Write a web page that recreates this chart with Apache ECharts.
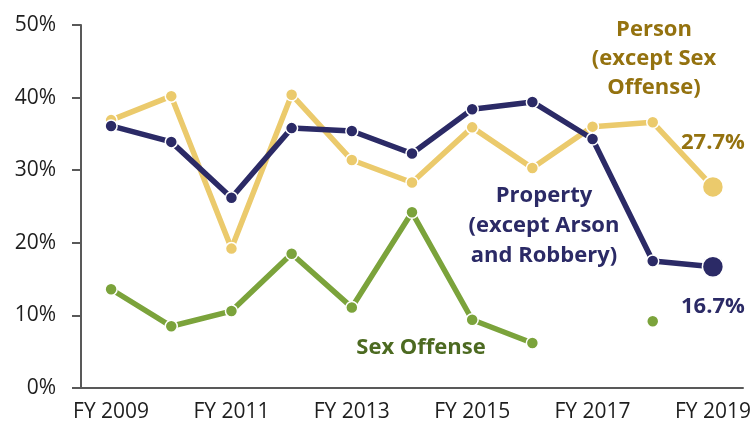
<!DOCTYPE html>
<html>
<head>
<meta charset="UTF-8" />
<script src="https://cdn.jsdelivr.net/npm/echarts@6/dist/echarts.min.js"></script>
<style>
  body { margin: 0; background: #fff; }
  #chart { width: 756px; height: 424px; }
</style>
</head>
<body>
<div id="chart"></div>
<script>
  const years = ['FY 2009', 'FY 2010', 'FY 2011', 'FY 2012', 'FY 2013', 'FY 2014',
                 'FY 2015', 'FY 2016', 'FY 2017', 'FY 2018', 'FY 2019'];
  const property = [36.1, 33.9, 26.2, 35.8, 35.4, 32.3, 38.4, 39.4, 34.3, 17.5, 16.7];
  const person = [36.9, 40.2, 19.2, 40.4, 31.4, 28.3, 35.9, 30.3, 36.0, 36.6, 27.7];
  const sexOffense = [13.6, 8.5, 10.6, 18.5, 11.1, 24.2, 9.4, 6.2, null, 9.2, null];

  const FONT = '"Open Sans", "Noto Sans", sans-serif';
  const NAVY = '#2b2a66';
  const GOLD = '#ebca6c';
  const GREEN = '#7ba33b';

  // last point drawn larger with its value as label
  function withEnd(values, labelCfg) {
    return values.map((v, i) => {
      if (i === values.length - 1 && v != null) {
        return { value: v, symbolSize: 21, label: labelCfg };
      }
      return v;
    });
  }

  function lineSeries(name, data, color) {
    return {
      name: name,
      type: 'line',
      data: data,
      connectNulls: false,
      symbol: 'circle',
      symbolSize: 12,
      lineStyle: { color: color, width: 5.5 },
      itemStyle: { color: color, borderColor: '#fff', borderWidth: 1.5 },
      emphasis: { disabled: true },
      z: 2
    };
  }

  const chart = echarts.init(document.getElementById('chart'), null, { renderer: 'canvas' });

  chart.setOption({
    animation: false,
    grid: { left: 81, right: 13, top: 25, bottom: 36 },
    xAxis: {
      type: 'category',
      data: years,
      boundaryGap: true,
      axisLine: { lineStyle: { color: '#595959', width: 2 } },
      axisTick: { show: false },
      axisLabel: { interval: 1, color: '#1e1e1e', fontSize: 21, fontFamily: FONT, margin: 14 }
    },
    yAxis: {
      type: 'value',
      min: 0,
      max: 50,
      interval: 10,
      splitLine: { show: false },
      axisLine: { show: true, lineStyle: { color: '#595959', width: 2 } },
      axisTick: { show: true, length: 9, lineStyle: { color: '#595959', width: 2 } },
      axisLabel: { formatter: '{value}%', color: '#1e1e1e', fontSize: 21, fontFamily: FONT, margin: 25 }
    },
    series: [
      lineSeries('Sex Offense', sexOffense, GREEN),
      lineSeries('Person', withEnd(person, {
        show: true, position: 'top', distance: 22, formatter: '{c}%',
        color: '#94720f', fontSize: 22, fontWeight: 'bold', fontFamily: FONT
      }), GOLD),
      lineSeries('Property', withEnd(property, {
        show: true, position: 'bottom', distance: 18, formatter: '{c}%',
        color: NAVY, fontSize: 22, fontWeight: 'bold', fontFamily: FONT
      }), NAVY)
    ],
    graphic: [
      {
        type: 'text', x: 654, y: 15,
        style: {
          text: 'Person\n(except Sex\nOffense)', fill: '#94720f', align: 'center',
          font: 'bold 22px ' + FONT, lineHeight: 29
        }
      },
      {
        type: 'text', x: 544, y: 181,
        style: {
          text: 'Property\n(except Arson\nand Robbery)', fill: NAVY, align: 'center',
          font: 'bold 22px ' + FONT, lineHeight: 30
        }
      },
      {
        type: 'text', x: 421, y: 337,
        style: {
          text: 'Sex Offense', fill: '#4c6a21', align: 'center',
          font: 'bold 22px ' + FONT
        }
      }
    ]
  });
</script>
</body>
</html>
